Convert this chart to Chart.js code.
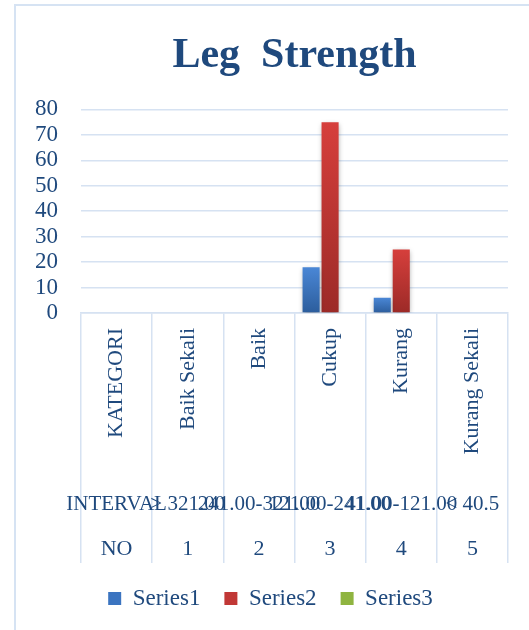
<!DOCTYPE html>
<html>
<head>
<meta charset="utf-8">
<script src="https://cdn.jsdelivr.net/npm/chart.js@4"></script>
<style>
  html, body { margin: 0; padding: 0; background: #ffffff; }
  #frame { position: absolute; left: 14px; top: 4px; width: 600px; height: 700px;
           border-left: 2px solid #d6e3f3; border-top: 2px solid #d6e3f3; }
  #wrap { position: absolute; left: 0; top: 0; width: 529px; height: 630px; }
</style>
</head>
<body>
<div id="frame"></div>
<div id="wrap"><canvas id="c" width="529" height="630"></canvas></div>
<script>
// ---- data ----
const categories = ['KATEGORI', 'Baik Sekali', 'Baik', 'Cukup', 'Kurang', 'Kurang Sekali'];
const intervals  = ['INTERVAL', '> 321.00', '241.00-321.00', '121.00-241.00', '41.00-121.00', '< 40.5'];
const numbers    = ['NO', '1', '2', '3', '4', '5'];
const series1 = [null, 0, 0, 18, 6, 0];
const series2 = [null, 0, 0, 75, 25, 0];
const series3 = [null, 0, 0, 0, 0, 0];
const yMin = 0, yMax = 80, yStep = 10;

// ---- styles ----
const TEXT = '#1F497D';
const GRID = '#d6e2f2';
const SERIF = "'Liberation Serif', 'DejaVu Serif', serif";
const legendColors = ['#3b74c0', '#c13836', '#8fb440'];

function grad(top, bottom, flat) {
  return (c) => {
    if (c.type !== 'data' || !c.raw) return flat;
    const ys = c.chart.scales.y;
    if (!ys) return flat;
    const y0 = ys.getPixelForValue(c.raw), y1 = ys.getPixelForValue(0);
    const g = c.chart.ctx.createLinearGradient(0, y0, 0, y1);
    g.addColorStop(0, top);
    g.addColorStop(1, bottom);
    return g;
  };
}

const shadowPlugin = {
  id: 'barShadow',
  beforeDatasetsDraw(chart) {
    const ctx = chart.ctx;
    ctx.save();
    ctx.shadowColor = 'rgba(0,0,0,0.35)';
    ctx.shadowBlur = 5;
    ctx.shadowOffsetX = 0;
    ctx.shadowOffsetY = 2;
  },
  afterDatasetsDraw(chart) { chart.ctx.restore(); }
};

const rowsPlugin = {
  id: 'multiRows',
  afterDraw(chart) {
    const xs = chart.scales.x;
    const ctx = chart.ctx;
    ctx.save();
    ctx.fillStyle = TEXT;
    categories.forEach((lab, i) => {
      const x = xs.getPixelForValue(i);
      ctx.save();
      ctx.translate(x, xs.top + 15);
      ctx.rotate(-Math.PI / 2);
      ctx.font = '22px ' + SERIF;
      ctx.textAlign = 'right';
      ctx.textBaseline = 'middle';
      ctx.fillText(lab, 0, 0);
      ctx.restore();
      ctx.font = '21px ' + SERIF;
      ctx.textAlign = 'center';
      ctx.textBaseline = 'alphabetic';
      ctx.fillText(intervals[i], x, xs.top + 197);
      ctx.font = '22px ' + SERIF;
      ctx.fillText(numbers[i], x, xs.top + 242);
    });
    ctx.restore();
  }
};

new Chart(document.getElementById('c'), {
  type: 'bar',
  data: {
    labels: categories,
    datasets: [
      { label: 'Series1', data: series1, backgroundColor: grad('#4a87d6', '#2c5d9c', '#3b74c0') },
      { label: 'Series2', data: series2, backgroundColor: grad('#d63f3c', '#9c2a27', '#c13836') },
      { label: 'Series3', data: series3, backgroundColor: grad('#9bc24a', '#76993a', '#8fb440') }
    ]
  },
  options: {
    responsive: false,
    animation: false,
    devicePixelRatio: 1,
    layout: { padding: { left: 33, right: 21, top: 0, bottom: 10 } },
    datasets: { bar: { barPercentage: 0.9, categoryPercentage: 0.8 } },
    scales: {
      x: {
        type: 'category',
        offset: true,
        grid: { offset: true, drawOnChartArea: false, drawTicks: true, tickLength: 250, color: GRID, lineWidth: 1.5 },
        border: { display: true, color: GRID, width: 1.5 },
        ticks: { display: false },
        afterFit(s) { s.height = 250; }
      },
      y: {
        min: yMin, max: yMax,
        grid: { color: GRID, lineWidth: 1.5, drawTicks: false },
        border: { display: false },
        ticks: { stepSize: yStep, autoSkip: false, color: TEXT, font: { family: SERIF, size: 23 }, padding: 23 },
        afterFit(s) { s.width = 48; }
      }
    },
    plugins: {
      title: {
        display: true,
        fullSize: false,
        text: 'Leg  Strength',
        color: TEXT,
        font: { family: SERIF, size: 42, weight: 'bold' },
        padding: { top: 31, bottom: 28 }
      },
      legend: {
        position: 'bottom',
        labels: {
          boxWidth: 13, boxHeight: 13, padding: 24,
          color: TEXT,
          font: { family: SERIF, size: 23 },
          generateLabels(chart) {
            const items = Chart.defaults.plugins.legend.labels.generateLabels(chart);
            items.forEach((it, i) => { it.fillStyle = legendColors[i]; it.strokeStyle = legendColors[i]; it.lineWidth = 0; });
            return items;
          }
        }
      },
      tooltip: { enabled: false }
    }
  },
  plugins: [shadowPlugin, rowsPlugin]
});
</script>
</body>
</html>
